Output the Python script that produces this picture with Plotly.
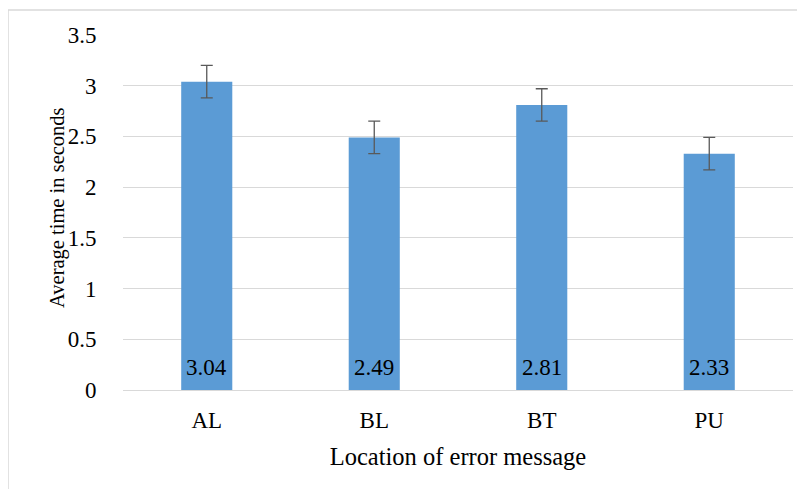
import plotly.graph_objects as go

categories = ["AL", "BL", "BT", "PU"]
values = [3.04, 2.49, 2.81, 2.33]
errors = [0.16, 0.16, 0.16, 0.16]
value_labels = ["3.04", "2.49", "2.81", "2.33"]
y_ticks = [0, 0.5, 1, 1.5, 2, 2.5, 3, 3.5]
y_tick_text = ["0", "0.5", "1", "1.5", "2", "2.5", "3", "3.5"]

# page body has an 8px margin, so figure coordinates = screen - 8
W, H = 805, 489
L, T = 115, 27
PR, PB = 785, 382
R, B = W - PR, H - PB
pw, ph = PR - L, PB - T

def px(x):
    return (x - L) / pw

def py(y):
    return (PB - y) / ph

font_family = "Liberation Serif"

fig = go.Figure()
fig.add_trace(go.Bar(
    x=categories,
    y=values,
    width=0.305,
    marker=dict(color="#5B9BD5", line=dict(width=0)),
    error_y=dict(type="data", array=errors, visible=True,
                 color="#595959", thickness=1.3, width=6),
    hoverinfo="skip",
))

annotations = []
for c, lab in zip(categories, value_labels):
    annotations.append(dict(
        x=c, y=0, xref="x", yref="y", text=lab, showarrow=False,
        yanchor="bottom", xanchor="center", yshift=8,
        font=dict(family=font_family, size=23, color="#000000"),
    ))
annotations.append(dict(
    x=px(49), y=py(200), xref="paper", yref="paper",
    text="Average time in seconds", showarrow=False, textangle=-90,
    xanchor="center", yanchor="middle",
    font=dict(family=font_family, size=20.5, color="#000000"),
))

fig.update_layout(
    width=W, height=H,
    margin=dict(l=L, r=R, t=T, b=B, autoexpand=False),
    paper_bgcolor="white",
    plot_bgcolor="white",
    showlegend=False,
    font=dict(family=font_family, size=23, color="#000000"),
    annotations=annotations,
    xaxis=dict(
        range=[-0.5, 3.5],
        showgrid=False,
        showline=False,
        ticks="outside", ticklen=9, tickcolor="rgba(0,0,0,0)",
        tickfont=dict(family=font_family, size=23, color="#000000"),
        title=dict(text="Location of error message", standoff=16,
                   font=dict(family=font_family, size=24.5, color="#000000")),
    ),
    yaxis=dict(
        range=[0, 3.5],
        tickvals=y_ticks,
        ticktext=y_tick_text,
        showgrid=True, gridcolor="#D9D9D9", gridwidth=1.3,
        zeroline=True, zerolinecolor="#D9D9D9", zerolinewidth=1.3,
        showline=False,
        ticks="outside", ticklen=21, tickcolor="rgba(0,0,0,0)",
        tickfont=dict(family=font_family, size=23, color="#000000"),
    ),
    shapes=[
        dict(type="line", xref="paper", yref="paper",
             x0=px(0), x1=px(805), y0=py(2), y1=py(2),
             line=dict(color="#D9D9D9", width=1.5)),
        dict(type="line", xref="paper", yref="paper",
             x0=px(0), x1=px(0), y0=py(2), y1=py(489),
             line=dict(color="#D9D9D9", width=1.5)),
    ],
)

fig.write_html("out.html")
